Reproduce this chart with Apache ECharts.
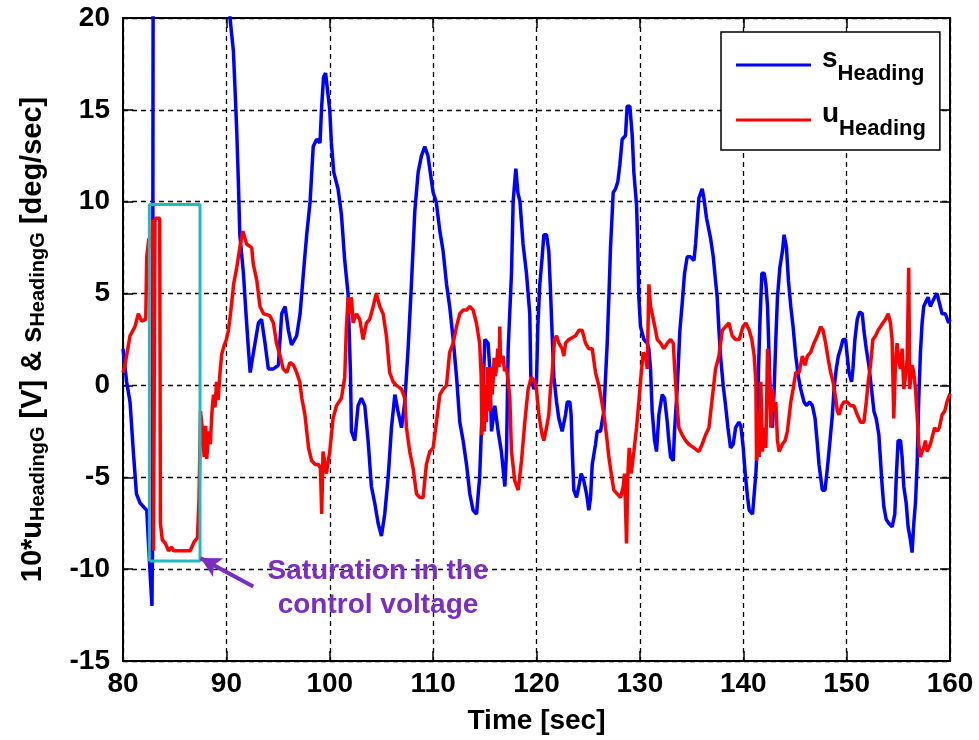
<!DOCTYPE html>
<html><head><meta charset="utf-8">
<script src="https://cdn.jsdelivr.net/npm/echarts@6/dist/echarts.min.js"></script>
<style>html,body{margin:0;padding:0;background:#fff}#chart{width:979px;height:740px}</style>
</head><body><div id="chart"></div>
<script>
// ---------- data ----------
const sTime = [
80.0, 80.35, 80.68, 81.0, 81.3, 81.65, 82.3, 82.55, 82.8, 82.85,
82.92, 90.2, 90.35, 90.68, 90.84, 91.0, 91.16, 91.3, 91.65, 91.9,
92.13, 92.3, 92.45, 92.77, 93.1, 93.4, 93.74, 94.06, 94.55, 95.03,
95.35, 95.68, 96.0, 96.3, 96.8, 97.13, 97.45, 97.77, 98.1, 98.4,
98.74, 99.06, 99.2, 99.4, 99.6, 100.0, 100.16, 100.39, 100.8, 101.13,
101.45, 101.77, 102.0, 102.1, 102.42, 102.74, 103.06, 103.39, 103.71, 104.03,
104.35, 104.68, 105.0, 105.32, 105.65, 105.97, 106.3, 106.6, 106.94, 107.26,
107.58, 107.9, 108.23, 108.55, 108.87, 109.19, 109.5, 110.0, 110.3, 110.65,
110.97, 111.3, 111.6, 111.94, 112.26, 112.58, 112.9, 113.23, 113.55, 113.87,
114.2, 114.5, 114.68, 114.84, 115.0, 115.32, 115.48, 115.65, 115.97, 116.29,
116.6, 116.94, 117.1, 117.26, 117.58, 117.74, 118.0, 118.2, 118.4, 118.7,
119.03, 119.35, 119.45, 119.74, 120.0, 120.13, 120.32, 120.55, 120.71, 120.97,
121.19, 121.35, 121.52, 121.68, 121.94, 122.16, 122.48, 122.65, 122.81, 122.97,
123.23, 123.35, 123.45, 123.61, 123.87, 124.1, 124.32, 124.58, 124.84, 125.06,
125.23, 125.39, 125.71, 125.87, 126.19, 126.52, 126.68, 126.84, 127.0, 127.16,
127.42, 127.65, 127.87, 128.06, 128.29, 128.61, 128.77, 129.03, 129.26, 129.42,
129.68, 129.81, 129.9, 130.06, 130.39, 130.71, 130.87, 131.03, 131.19, 131.42,
131.61, 131.84, 132.16, 132.39, 132.65, 132.8, 132.97, 133.23, 133.35, 133.61,
133.87, 134.1, 134.32, 134.58, 134.9, 135.23, 135.39, 135.71, 136.03, 136.19,
136.45, 136.84, 137.1, 137.32, 137.48, 137.65, 137.8, 138.06, 138.29, 138.52,
138.77, 139.03, 139.26, 139.58, 139.77, 140.0, 140.19, 140.42, 140.58, 140.9,
141.06, 141.22, 141.38, 141.48, 141.61, 141.8, 142.03, 142.19, 142.35, 142.51,
142.67, 142.83, 142.99, 143.15, 143.31, 143.54, 143.79, 143.95, 144.18, 144.37,
144.6, 144.82, 145.08, 145.34, 145.56, 145.88, 146.11, 146.43, 146.69, 146.95,
147.17, 147.33, 147.49, 147.65, 147.91, 148.14, 148.36, 148.62, 148.78, 149.0,
149.2, 149.42, 149.65, 149.9, 150.06, 150.23, 150.48, 150.61, 150.8, 151.03,
151.25, 151.51, 151.67, 151.9, 152.15, 152.41, 152.64, 152.86, 153.12, 153.28,
153.44, 153.6, 153.83, 154.08, 154.4, 154.66, 154.82, 154.98, 155.21, 155.37,
155.53, 155.76, 155.95, 156.17, 156.33, 156.5, 156.66, 156.82, 156.98, 157.14,
157.3, 157.46, 157.62, 157.88, 158.1, 158.26, 158.52, 158.75, 158.97, 159.23,
159.55, 159.87, 160.0
];
const sValue = [
2.0, 0.2, -0.9, -3.6, -5.9, -6.4, -6.8, -9.5, -12.0, -9.0,
24, 24, 20, 18.2, 16.1, 13.9, 11.1, 8.2, 6.1, 3.9,
2.0, 0.7, 0.6, 2.3, 3.4, 3.6, 2.3, 0.9, 0.9, 1.1,
3.9, 4.3, 3.0, 2.2, 2.7, 3.9, 6.1, 8.2, 10.0, 13.0,
13.4, 13.2, 15.0, 16.8, 17.0, 15.0, 13.2, 11.6, 10.7, 9.3,
6.8, 5.0, 0.7, -2.5, -3.0, -1.1, -0.7, -1.1, -3.0, -5.5,
-6.4, -7.5, -8.2, -7.0, -5.0, -2.3, -0.5, -1.4, -2.3, -0.9,
2.0, 5.5, 9.5, 11.6, 12.5, 13.0, 12.5, 10.5, 10.0, 8.4,
7.3, 5.5, 4.3, 2.5, 0.5, -2.0, -3.0, -4.3, -5.9, -6.8,
-7.0, -5.0, -2.3, -0.2, 2.5, 2.3, 0.9, -2.5, -1.1, -2.5,
-3.6, -5.5, -3.6, 2.0, 6.1, 10.0, 11.8, 10.5, 10.0, 7.7,
6.1, 3.9, 0.5, -0.2, 0.2, 3.2, 5.5, 7.0, 8.2, 8.2,
7.3, 5.2, 2.7, 0.45, -0.9, -1.8, -2.5, -2.5, -1.6, -0.9,
-0.9, -1.6, -3.4, -5.7, -6.1, -5.5, -4.8, -5.2, -5.9, -6.8,
-6.1, -4.3, -3.2, -2.5, -2.5, -1.4, 0.45, 2.3, 4.8, 7.5,
10.5, 10.7, 11.1, 12.0, 13.4, 13.6, 15.2, 15.2, 13.6, 11.6,
9.8, 7.3, 4.8, 3.2, 2.5, 2.3, 2.0, 0.9, -1.4, -3.0,
-3.6, -1.6, -0.5, -0.7, -2.0, -3.0, -3.9, -4.1, -2.5, -0.2,
3.0, 4.5, 6.1, 7.0, 7.0, 6.8, 7.7, 10.2, 10.7, 10.2,
9.1, 8.0, 7.0, 5.7, 4.8, 3.0, 1.6, 0.0, -1.1, -2.3,
-3.4, -3.2, -2.3, -2.0, -2.2, -3.4, -4.8, -6.1, -6.8, -7.0,
-5.9, -4.8, -3.0, 0.9, 3.4, 6.1, 6.1, 5.5, 4.3, 1.4,
-1.6, -2.3, -0.2, 2.5, 4.8, 6.4, 7.3, 8.2, 7.5, 5.7,
4.3, 3.2, 1.6, 0.45, -0.2, -0.9, -1.1, -0.9, -1.1, -1.8,
-3.2, -4.3, -5.0, -5.7, -5.7, -4.5, -3.2, -1.6, -0.2, 0.9,
1.6, 2.0, 2.5, 2.5, 1.6, 0.7, 0.2, 0.9, 2.5, 3.6,
4.0, 3.9, 3.0, 2.0, 1.1, -0.2, -1.4, -1.8, -2.7, -4.1,
-5.5, -6.6, -7.3, -7.5, -7.7, -7.0, -4.8, -3.0, -3.0, -3.9,
-5.5, -6.4, -7.7, -8.4, -9.1, -7.5, -6.4, -4.3, -0.7, 1.8,
3.4, 4.3, 4.5, 4.8, 4.3, 4.5, 4.8, 5.0, 4.5, 3.9,
3.9, 3.4, 3.6
];
const uTime = [
80.0, 80.19, 80.68, 81.16, 81.48, 81.8, 82.2, 82.3, 82.5, 82.75,
82.9, 82.95, 83.05, 83.1, 83.55, 83.62, 83.8, 84.1, 84.4, 84.7,
84.9, 85.3, 86.0, 86.5, 86.9, 87.2, 87.35, 87.5, 87.7, 87.85,
88.0, 88.1, 88.3, 88.45, 88.6, 88.75, 88.9, 89.05, 89.2, 89.4,
89.55, 89.8, 90.0, 90.2, 90.4, 90.7, 91.0, 91.3, 91.6, 91.95,
92.45, 92.6, 92.95, 93.25, 93.6, 94.2, 94.55, 94.85, 95.2, 95.5,
95.85, 96.15, 96.5, 96.8, 97.1, 97.3, 97.6, 97.95, 98.25, 98.6,
98.9, 99.1, 99.22, 99.35, 99.68, 100.0, 100.32, 100.65, 101.13, 101.45,
101.6, 101.77, 101.94, 102.1, 102.26, 102.58, 102.9, 103.23, 103.55, 103.87,
104.2, 104.5, 104.84, 105.16, 105.48, 105.8, 106.13, 106.45, 106.94, 107.26,
107.42, 107.74, 108.06, 108.39, 108.71, 109.03, 109.35, 109.68, 110.0, 110.32,
110.65, 110.97, 111.29, 111.6, 111.94, 112.26, 112.58, 112.9, 113.23, 113.55,
113.87, 114.19, 114.5, 114.65, 114.72, 114.8, 114.88, 114.95, 115.05, 115.15,
115.25, 115.32, 115.42, 115.5, 115.6, 115.7, 115.8, 115.9, 116.0, 116.13,
116.25, 116.38, 116.45, 116.52, 116.61, 116.77, 116.9, 117.1, 117.25, 117.42,
117.58, 117.9, 118.23, 118.55, 118.87, 119.19, 119.5, 119.84, 120.0, 120.23,
120.55, 120.71, 120.97, 121.19, 121.35, 121.52, 121.74, 121.94, 122.16, 122.48,
122.65, 122.81, 123.13, 123.45, 123.77, 124.1, 124.42, 124.74, 125.06, 125.39,
125.71, 126.03, 126.26, 126.52, 126.77, 127.0, 127.23, 127.48, 127.81, 128.13,
128.39, 128.52, 128.71, 128.84, 128.97, 129.16, 129.42, 129.68, 129.9, 130.06,
130.32, 130.55, 130.71, 130.87, 131.03, 131.19, 131.35, 131.52, 131.68, 132.0,
132.32, 132.65, 132.97, 133.23, 133.35, 133.55, 133.77, 134.1, 134.42, 134.74,
135.23, 135.71, 136.03, 136.35, 136.68, 137.0, 137.32, 137.65, 137.97, 138.29,
138.61, 138.94, 139.26, 139.61, 139.97, 140.26, 140.58, 140.83, 141.06, 141.22,
141.29, 141.42, 141.55, 141.7, 141.86, 142.03, 142.19, 142.35, 142.51, 142.67,
142.83, 142.99, 143.15, 143.31, 143.47, 143.63, 143.79, 144.05, 144.27, 144.6,
144.82, 145.08, 145.4, 145.72, 145.98, 146.2, 146.52, 146.84, 147.17, 147.49,
147.72, 147.97, 148.23, 148.46, 148.68, 148.94, 149.1, 149.26, 149.52, 149.74,
150.06, 150.38, 150.7, 151.03, 151.35, 151.67, 151.9, 152.09, 152.31, 152.54,
152.8, 153.05, 153.28, 153.5, 153.76, 154.02, 154.24, 154.4, 154.56, 154.72,
154.88, 155.04, 155.2, 155.37, 155.53, 155.69, 155.85, 156.01, 156.1, 156.33,
156.5, 156.66, 156.82, 156.98, 157.14, 157.3, 157.46, 157.62, 157.78, 157.94,
158.1, 158.33, 158.52, 158.75, 158.97, 159.23, 159.49, 159.71, 160.0
];
const uValue = [
0.7, 1.1, 2.7, 3.2, 3.9, 3.5, 3.6, 7.0, 8.0, 7.5,
9.0, -9.0, -9.0, 9.1, 9.1, -7.5, -8.4, -8.6, -9.0, -8.8,
-9.0, -9.0, -9.0, -9.0, -8.5, -8.3, -6.3, -1.4, -2.5, -3.9,
-2.2, -4.0, -2.5, -3.2, -1.5, -0.5, -1.2, 0.2, -0.8, 0.8,
1.7, 2.2, 2.5, 3.0, 3.9, 5.5, 6.4, 7.5, 8.4, 7.7,
7.5, 6.6, 5.7, 4.3, 3.9, 3.8, 3.4, 2.3, 1.6, 0.9,
0.7, 1.25, 1.1, 0.7, 0.2, -0.7, -1.6, -3.4, -4.1, -4.3,
-4.3, -4.5, -7.0, -3.6, -4.8, -3.6, -1.8, -1.1, -0.7, 0.45,
3.0, 4.8, 3.9, 4.8, 3.4, 3.9, 3.6, 2.5, 3.4, 3.6,
4.3, 5.0, 4.3, 3.9, 2.7, 0.7, 0.2, 0.0, -0.2, -0.7,
-2.3, -3.6, -4.5, -5.9, -6.1, -6.1, -4.3, -3.6, -3.4, -2.0,
-0.5, -0.2, 0.0, 1.8, 2.3, 3.2, 3.9, 4.1, 4.1, 4.3,
4.1, 3.4, 2.3, 0.5, -2.7, 1.2, -1.0, -2.5, 0.0, -2.0,
1.0, -1.2, 0.2, -1.4, 1.0, -0.5, 0.2, 1.5, 0.5, 0.9,
2.0, 1.0, 3.2, 1.2, 1.4, 1.6, 0.8, 0.9, 0.3, -0.7,
-3.6, -5.2, -5.7, -4.1, -2.0, -0.2, 0.45, 0.2, -0.2, -1.6,
-2.7, -3.0, -2.3, -1.6, -0.2, 0.7, 2.5, 2.7, 2.3, 2.0,
1.6, 2.3, 2.5, 2.6, 2.7, 3.0, 3.0, 2.3, 2.0, 2.0,
0.7, 0.0, -0.7, -1.6, -2.7, -3.9, -4.8, -5.7, -5.9, -6.1,
-5.5, -4.8, -8.6, -4.8, -3.4, -4.8, -3.6, -2.3, -0.9, 0.2,
1.8, 1.6, 0.9, 5.5, 4.3, 3.9, 3.9, 3.0, 2.5, 2.3,
2.0, 2.3, 2.5, 2.3, 1.1, -0.7, -2.3, -2.7, -3.0, -3.2,
-3.4, -3.6, -3.2, -2.7, -2.3, -0.7, 0.9, 1.6, 3.0, 3.2,
3.4, 2.7, 2.5, 2.5, 3.2, 3.4, 3.0, 2.5, 1.6, 0.2,
-4.1, -1.4, -3.9, 0.2, -3.6, -2.3, -3.4, 2.0, 0.7, -2.3,
-0.2, -1.4, -0.9, -3.0, -3.6, -3.4, -3.2, -3.0, -2.5, -0.9,
-0.2, 0.7, 0.7, 1.6, 1.1, 1.6, 1.8, 2.3, 2.7, 3.2,
3.0, 2.3, 1.4, 0.7, 0.2, -0.7, -1.4, -1.6, -1.1, -0.9,
-0.9, -1.1, -1.1, -1.6, -2.0, -2.0, -0.9, 0.2, 1.1, 2.5,
2.7, 3.0, 3.2, 3.4, 3.6, 3.9, 3.4, 2.5, -1.8, 1.1,
2.3, 1.4, 0.9, 2.0, -0.2, 0.45, 1.4, 6.4, -0.2, 1.1,
0.7, -0.2, -1.6, -3.2, -3.9, -3.6, -3.4, -3.0, -3.6, -3.4,
-3.2, -2.7, -2.3, -2.5, -2.3, -1.6, -1.4, -0.9, -0.45
];
// saturation box (time range, level range) and annotation arrow (tail -> head)
const satBoxTime = [82.55, 87.45];
const satBoxLevel = [-9.55, 9.85];
const arrowTail = [92.6, -10.95];
const arrowHead = [87.5, -9.4];
const xRange = [80, 160], xStep = 10;
const yRange = [-15, 20], yStep = 5;

// ---------- chart ----------
const FONT = "'Liberation Sans', Arial, Helvetica, sans-serif";
const PURPLE = '#7a2fc0';
const CYAN = '#22bbbb';
const zip = (a, b) => a.map((t, i) => [t, b[i]]);
const boxData = [
  [satBoxTime[0], satBoxLevel[0]], [satBoxTime[1], satBoxLevel[0]],
  [satBoxTime[1], satBoxLevel[1]], [satBoxTime[0], satBoxLevel[1]],
  [satBoxTime[0], satBoxLevel[0]]
];

const axisBase = {
  type: 'value',
  axisLine: { show: true, onZero: false, lineStyle: { color: '#000', width: 2 } },
  axisTick: { show: true, inside: true, length: 10, lineStyle: { color: '#000', width: 1.5 } }
};
const gridLine = { show: true, lineStyle: { color: '#000', type: [5, 4], width: 1.3 } };
const tickFont = { color: '#000', fontFamily: FONT, fontSize: 28, fontWeight: 'bold' };

const chart = echarts.init(document.getElementById('chart'), null, { renderer: 'canvas' });
chart.setOption({
  animation: false,
  backgroundColor: '#fff',
  grid: { left: 123, right: 29, top: 18, bottom: 79, show: true, borderColor: '#000', borderWidth: 2,
          containLabel: false, outerBoundsMode: 'none' },
  xAxis: [
    Object.assign({}, axisBase, {
      position: 'bottom', min: xRange[0], max: xRange[1], interval: xStep,
      axisLabel: Object.assign({ margin: 7, lineHeight: 32 }, tickFont),
      splitLine: gridLine,
      name: 'Time [sec]', nameLocation: 'middle', nameGap: 41,
      nameTextStyle: { color: '#000', fontFamily: FONT, fontSize: 28, fontWeight: 'bold', lineHeight: 32 }
    }),
    Object.assign({}, axisBase, {
      position: 'top', min: xRange[0], max: xRange[1], interval: xStep,
      axisLabel: { show: false }, splitLine: { show: false }
    })
  ],
  yAxis: [
    Object.assign({}, axisBase, {
      position: 'left', min: yRange[0], max: yRange[1], interval: yStep,
      axisLabel: Object.assign({ margin: 13 }, tickFont),
      splitLine: gridLine,
      name: '{m|10*u}{sub|HeadingG}{m| [V] & s}{sub|HeadingG}{m| [deg/sec]}',
      nameLocation: 'middle', nameRotate: 90, nameGap: 75,
      nameTextStyle: {
        color: '#000', fontFamily: FONT, fontWeight: 'bold',
        rich: {
          m: { color: '#000', fontFamily: FONT, fontSize: 29, fontWeight: 'bold', lineHeight: 30, verticalAlign: 'top' },
          sub: { color: '#000', fontFamily: FONT, fontSize: 20, fontWeight: 'bold', lineHeight: 20, padding: [23, 0, 0, 0], verticalAlign: 'bottom' }
        }
      }
    }),
    Object.assign({}, axisBase, {
      position: 'right', min: yRange[0], max: yRange[1], interval: yStep,
      axisLabel: { show: false }, splitLine: { show: false }
    })
  ],
  legend: {
    data: ['s_Heading', 'u_Heading'],
    orient: 'vertical', left: 721, top: 32,
    padding: [5, 14, 10, 15], itemGap: 7,
    itemWidth: 75, itemHeight: 3, icon: 'rect',
    borderColor: '#000', borderWidth: 1.5, backgroundColor: '#fff', borderRadius: 0,
    selectedMode: false,
    formatter: function (name) {
      return (name === 's_Heading' ? '{m|s}' : '{m|u}') + '{sub|Heading}';
    },
    textStyle: {
      rich: {
        m: { color: '#000', fontFamily: FONT, fontSize: 28, fontWeight: 'bold', lineHeight: 40, verticalAlign: 'top', padding: [0, 0, 0, 6] },
        sub: { color: '#000', fontFamily: FONT, fontSize: 22, fontWeight: 'bold', lineHeight: 22, padding: [26, 0, 0, 0], verticalAlign: 'bottom' }
      }
    }
  },
  graphic: [{
    type: 'text', x: 378, y: 554, z: 100,
    style: {
      text: 'Saturation in the\ncontrol voltage',
      fill: PURPLE, fontFamily: FONT, fontSize: 28, fontWeight: 'bold',
      align: 'center', verticalAlign: 'top', lineHeight: 34
    }
  }],
  series: [
    {
      name: 's_Heading', type: 'line', data: zip(sTime, sValue),
      symbol: 'none', showSymbol: false, clip: true, z: 2,
      lineStyle: { color: '#0000ff', width: 3.5 }, itemStyle: { color: '#0000ff' }
    },
    {
      name: 'u_Heading', type: 'line', data: zip(uTime, uValue),
      symbol: 'none', showSymbol: false, clip: true, z: 3,
      lineStyle: { color: '#ff0000', width: 3.5 }, itemStyle: { color: '#ff0000' }
    },
    {
      name: 'Saturation box', type: 'line', data: boxData,
      symbol: 'none', showSymbol: false, z: 4, silent: true,
      lineStyle: { color: CYAN, width: 3 }, itemStyle: { color: CYAN },
      markLine: {
        silent: true, symbol: ['none', 'arrow'], symbolSize: [16, 20],
        lineStyle: { color: PURPLE, width: 4, type: 'solid' },
        label: { show: false },
        emphasis: { disabled: true },
        data: [[{ coord: arrowTail }, { coord: arrowHead }]]
      }
    }
  ]
});
</script>
</body></html>
